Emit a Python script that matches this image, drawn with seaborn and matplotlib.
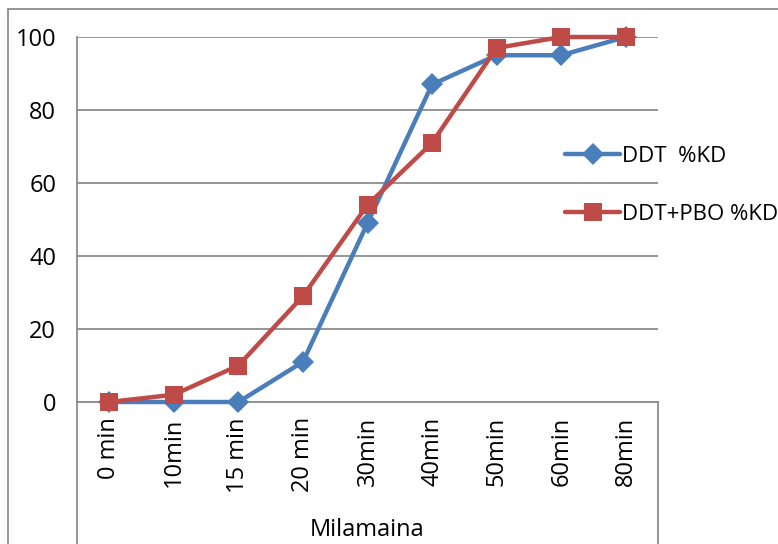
import pandas as pd
import matplotlib.pyplot as plt
import seaborn as sns
from matplotlib.lines import Line2D
from matplotlib.patches import Rectangle

categories = ["0 min", "10min", "15 min", "20 min", "30min", "40min", "50min", "60min", "80min"]
ddt_kd = [0, 0, 0, 11, 49, 87, 95, 95, 100]
ddt_pbo_kd = [0, 2, 10, 29, 54, 71, 97, 100, 100]
series_names = ["DDT  %KD", "DDT+PBO %KD"]
y_ticks = [0, 20, 40, 60, 80, 100]
group_label = "Milamaina"

BLUE = "#4A7EBB"
RED = "#BE4B48"
GRID = "#8C8C8C"
FS = 17


def setup_style():
    """Excel-like look"""
    sns.set_style("white")
    plt.rcParams['font.family'] = ['Open Sans', 'DejaVu Sans']
    plt.rcParams['font.size'] = FS
    plt.rcParams['text.color'] = 'black'
    plt.rcParams['xtick.color'] = 'black'
    plt.rcParams['ytick.color'] = 'black'


def plot_kd_curve():
    df = pd.DataFrame({
        'Time': categories * 2,
        'KD': ddt_kd + ddt_pbo_kd,
        'Series': [series_names[0]] * len(categories) + [series_names[1]] * len(categories),
    })

    W, H = 778, 544
    fig = plt.figure(figsize=(W / 100, H / 100), dpi=100)
    left, right, top, bottom = 77, 658, 37, 402
    ax = fig.add_axes([left / W, 1 - bottom / H, (right - left) / W, (bottom - top) / H])

    sns.lineplot(data=df, x='Time', y='KD', hue='Series', style='Series',
                 palette=[BLUE, RED], markers=['D', 's'], dashes=False,
                 linewidth=3.2, markersize=11.5, markeredgewidth=0, sort=False,
                 ax=ax, legend=False, clip_on=False, zorder=3)
    # square markers bigger
    ax.lines[1].set_markersize(13.5)

    ax.set_xlim(-0.5, len(categories) - 0.5)
    ax.set_ylim(0, 100)
    ax.set_yticks(y_ticks)
    ax.set_xlabel('')
    ax.set_ylabel('')
    ax.grid(axis='y', color=GRID, linewidth=1.3)
    ax.set_axisbelow(True)

    for s in ['top', 'right']:
        ax.spines[s].set_visible(False)
    ax.spines['left'].set_color(GRID)
    ax.spines['left'].set_linewidth(1.3)
    ax.spines['bottom'].set_color(GRID)
    ax.spines['bottom'].set_linewidth(1.3)

    ax.tick_params(axis='y', which='major', length=5, color=GRID, width=1.3, pad=10, labelsize=FS)
    ax.tick_params(axis='x', which='major', length=0, pad=11, labelsize=FS)
    ax.set_xticks(range(len(categories)))
    ax.set_xticklabels(categories, rotation=90, va='top')
    ax.set_xticks([i - 0.5 for i in range(len(categories) + 1)], minor=True)
    ax.tick_params(axis='x', which='minor', length=68, color=GRID, width=1.3, direction='out')

    # category group lines and label
    for xp in (left, right):
        fig.add_artist(Line2D([xp / W, xp / W], [1 - bottom / H, 0], color=GRID, linewidth=1.3))
    fig.text((left + right) / 2 / W, 1 - 530 / H, group_label, ha='center', va='center', fontsize=FS)

    # chart border
    fig.add_artist(Rectangle((8 / W, -0.1), 1.2, 1 - 9 / H + 0.1, transform=fig.transFigure,
                             fill=False, edgecolor=GRID, linewidth=1.3))

    handles = [Line2D([], [], color=BLUE, marker='D', markersize=11.5, linewidth=3.2, markeredgewidth=0),
               Line2D([], [], color=RED, marker='s', markersize=13.5, linewidth=3.2, markeredgewidth=0)]
    fig.legend(handles, series_names, loc='upper left', bbox_to_anchor=(556 / W, 1 - 137 / H),
               frameon=False, handlelength=2.5, handletextpad=0.05, labelspacing=1.65, fontsize=16,
               borderaxespad=0)

    plt.savefig("out.png", dpi=100)
    plt.close()


if __name__ == "__main__":
    setup_style()
    plot_kd_curve()
